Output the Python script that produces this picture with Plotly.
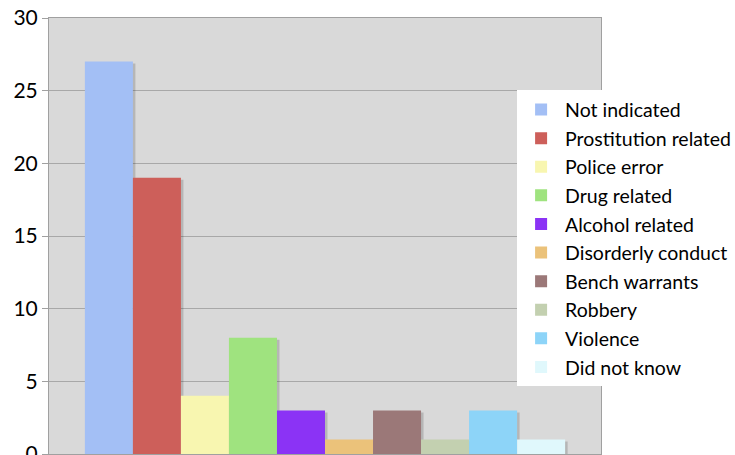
import plotly.graph_objects as go

categories = ["Not indicated", "Prostitution related", "Police error", "Drug related",
              "Alcohol related", "Disorderly conduct", "Bench warrants", "Robbery",
              "Violence", "Did not know"]
values = [27, 19, 4, 8, 3, 1, 3, 1, 3, 1]
colors = ["#a3bff5", "#cd5f5a", "#f8f6b0", "#9fe37f", "#8b33f5",
          "#ebc27a", "#9b7878", "#c3d0b0", "#8dd4f8", "#e0f8fc"]
y_ticks = [0, 5, 10, 15, 20, 25, 30]

W, H = 735, 455
ML, MR, MT, MB = 49, 134, 18, 0.5
plot_w = W - ML - MR
plot_h = H - MT - MB
sx = 2.5 / plot_w          # shadow shift (x, data units of 1-wide category)
sy = 2.0 * 30 / plot_h     # shadow shift (y, data units)

fig = go.Figure()
# drop shadows (drawn on base axes, below the bars)
for i, (name, v) in enumerate(zip(categories, values)):
    fig.add_trace(go.Bar(x=[""], y=[v], name=name, showlegend=False, hoverinfo="skip",
                         marker=dict(color="rgba(0,0,0,0.16)", line=dict(width=0)),
                         xaxis="x", yaxis="y"))
# real bars
for i, (name, v, c) in enumerate(zip(categories, values, colors)):
    fig.add_trace(go.Bar(x=[""], y=[v], name=name, marker=dict(color=c, line=dict(width=0)),
                         legendgroup=f"g{i}", xaxis="x2", yaxis="y2"))

fig.update_layout(
    width=W, height=H,
    margin=dict(l=ML, r=MR, t=MT, b=MB, autoexpand=False),
    paper_bgcolor="white",
    plot_bgcolor="#d9d9d9",
    barmode="group",
    bargap=0.13,
    bargroupgap=0,
    font=dict(family="Lato, sans-serif", color="black"),
    showlegend=True,
    legend=dict(
        x=0.848, xanchor="left", y=0.834, yanchor="top",
        bgcolor="white", borderwidth=0,
        font=dict(size=19.5, color="black"),
        traceorder="grouped", tracegroupgap=0.25,
        itemsizing="constant", itemwidth=38,
    ),
    xaxis=dict(range=[-0.5 - sx, 0.5 - sx], showticklabels=False, ticks="", showgrid=False,
               zeroline=False, automargin=False, showline=False),
    yaxis=dict(range=[0 + sy, 30 + sy], showticklabels=False, ticks="", showgrid=False,
               zeroline=False, automargin=False, showline=False),
    xaxis2=dict(overlaying="x", range=[-0.5, 0.5], showticklabels=False, ticks="",
                showgrid=False, zeroline=False, automargin=False,
                showline=True, linecolor="#a0a0a0", mirror=True, linewidth=1),
    yaxis2=dict(overlaying="y", side="left", range=[0, 30], tickvals=y_ticks,
                ticks="outside", ticklen=6, tickcolor="#a0a0a0",
                tickfont=dict(size=21, color="black"), automargin=False,
                ticklabeloverflow="allow",
                showgrid=True, gridcolor="#a8a8a8", gridwidth=1, zeroline=False,
                showline=True, linecolor="#a0a0a0", mirror=True, linewidth=1),
)

fig.write_html("out.html", config={"displayModeBar": False},
               post_script="document.body.style.margin='0';")
